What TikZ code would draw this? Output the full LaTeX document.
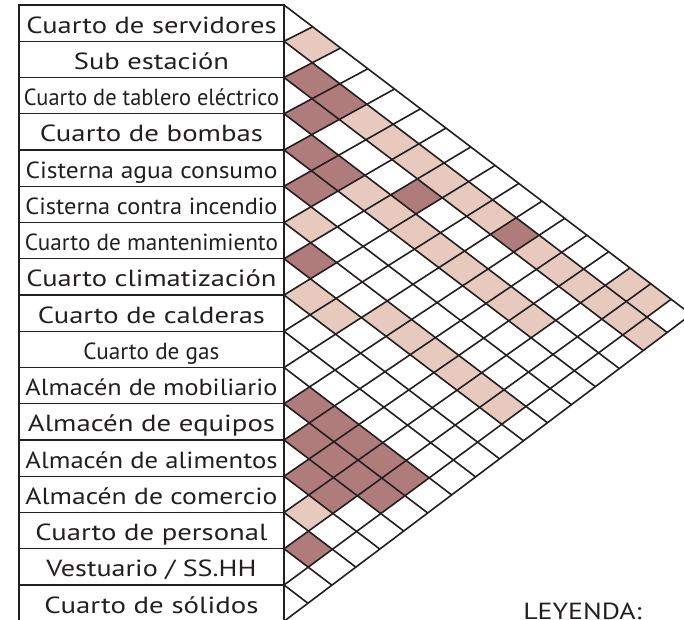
\documentclass[tikz,border=0pt]{standalone}
\usepackage{fontspec}
\setmainfont{PT Sans}
\definecolor{strongrel}{RGB}{176,124,123}
\definecolor{weakrel}{RGB}{231,201,190}
\definecolor{ink}{RGB}{35,31,32}
\pgfmathdeclarefunction{gx}{2}{\pgfmathparse{284+36.25*(#2-#1)/(1.25+0.0155*#2)}}
\pgfmathdeclarefunction{gy}{2}{\pgfmathparse{5+36.25*#1+27.55*(#2-#1)/(1.25+0.0155*#2)}}
\newcommand{\gv}[2]{({gx(#1,#2)},{gy(#1,#2)})}
\newcommand{\relcell}[3]{\fill[#3] \gv{#1}{#2-1} -- \gv{#1-1}{#2-1} -- \gv{#1-1}{#2} -- \gv{#1}{#2} -- cycle;}
\newcommand{\fitw}[2]{\resizebox{#1pt}{\height}{#2}}

\begin{document}
\begin{tikzpicture}[x=0.75pt,y=-0.75pt,
    rowbox/.style={draw=ink, line width=1pt, minimum width=198.75pt, minimum height=27.1875pt,
      inner sep=0pt, text height=15pt, text depth=0pt, text=ink, font=\fontsize{17.5}{20}\selectfont},
    gridline/.style={draw=ink, line width=1.2pt}
]
\useasboundingbox (0,0) rectangle (684,619);
\clip (0,0) rectangle (684,619);

\foreach \i/\j in {2/3,2/4,3/4,4/5,4/6,5/6,3/8,2/11,7/8,11/12,11/13,11/14,11/15,11/16,
    12/13,12/14,12/15,12/16,13/14,13/15,15/16}
  \relcell{\i}{\j}{strongrel};
\foreach \i/\j in {1/2,1/15,1/16,2/5,2/6,2/7,2/8,2/9,2/10,2/12,2/13,2/14,2/15,2/16,2/17,
    4/7,4/8,4/9,4/10,4/11,4/12,4/13,4/14,6/7,7/11,7/12,7/13,7/14,7/15,7/16,8/9,8/10,14/15}
  \relcell{\i}{\j}{weakrel};

\foreach \a in {0,...,16}
  \draw[gridline] \gv{\a}{\a} -- \gv{\a}{17};
\foreach \b in {1,...,17}
  \draw[gridline] \gv{\b}{\b} -- \gv{0}{\b};

\node[rowbox] (r1) at (151.5,23.125) {\fitw{187.5}{Cuarto de servidores}};
\node[rowbox] (r2) at (151.5,59.375) {\fitw{116.25}{Sub estación}};
\node[rowbox] (r3) at (151.5,95.625) {\fitw{191.25}{Cuarto de tablero eléctrico}};
\node[rowbox] (r4) at (151.5,131.875) {\fitw{167.25}{Cuarto de bombas}};
\node[rowbox] (r5) at (151.5,168.125) {\fitw{189}{Cisterna agua consumo}};
\node[rowbox] (r6) at (151.5,204.375) {\fitw{189}{Cisterna contra incendio}};
\node[rowbox] (r7) at (151.5,240.625) {\fitw{189.75}{Cuarto de mantenimiento}};
\node[rowbox] (r8) at (151.5,276.875) {\fitw{187.5}{Cuarto climatización}};
\node[rowbox] (r9) at (151.5,313.125) {\fitw{170.25}{Cuarto de calderas}};
\node[rowbox] (r10) at (151.5,349.375) {\fitw{102}{Cuarto de gas}};
\node[rowbox] (r11) at (151.5,385.625) {\fitw{189}{Almacén de mobiliario}};
\node[rowbox] (r12) at (151.5,421.875) {\fitw{185.25}{Almacén de equipos}};
\node[rowbox] (r13) at (151.5,458.125) {\fitw{189}{Almacén de alimentos}};
\node[rowbox] (r14) at (151.5,494.375) {\fitw{189}{Almacén de comercio}};
\node[rowbox] (r15) at (151.5,530.625) {\fitw{174}{Cuarto de personal}};
\node[rowbox] (r16) at (151.5,566.875) {\fitw{157.5}{Vestuario / SS.HH}};
\node[rowbox] (r17) at (151.5,603.125) {\fitw{160.5}{Cuarto de sólidos}};

\node[anchor=base west, inner sep=0pt, text=ink, font=\fontsize{17.5}{20}\selectfont] (leyenda) at (523,619) {\fitw{88.8}{LEYENDA:}};
\end{tikzpicture}
\end{document}
